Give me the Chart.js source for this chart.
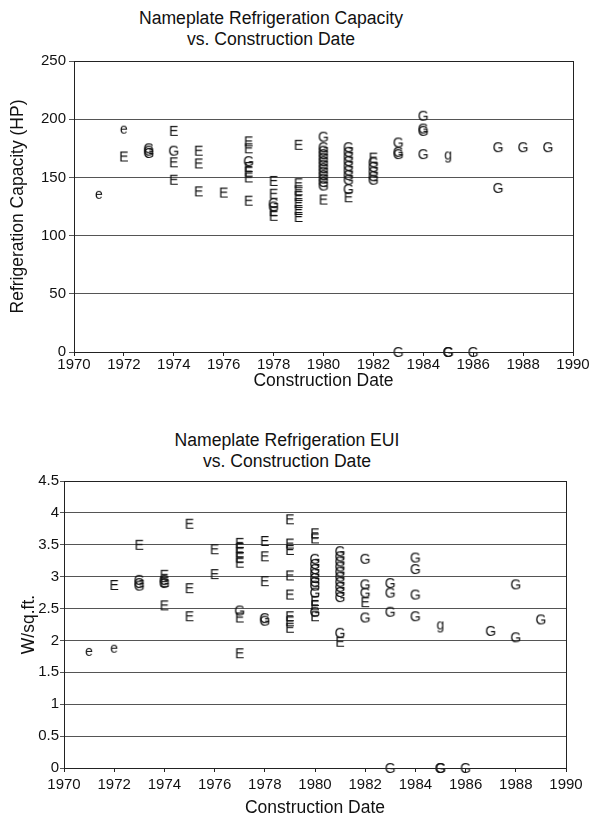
<!DOCTYPE html>
<html>
<head>
<meta charset="utf-8">
<script src="https://cdn.jsdelivr.net/npm/chart.js@4.4.1/dist/chart.umd.min.js"></script>
<style>
  html, body { margin: 0; padding: 0; background: #fff; }
  body { width: 592px; height: 821px; position: relative; overflow: hidden; font-family: "Liberation Sans", Arial, Helvetica, sans-serif; }
  .ttl { position: absolute; width: 420px; text-align: center; font-size: 17.6px; line-height: 21px; color: #111; }
  canvas { position: absolute; left: 0; }
</style>
</head>
<body>
<div class="ttl" id="t1" style="left:61px; top:8px;">Nameplate Refrigeration Capacity<br>vs. Construction Date</div>
<div class="ttl" id="t2" style="left:77px; top:430px;">Nameplate Refrigeration EUI<br>vs. Construction Date</div>
<canvas id="c1" width="592" height="410" style="top:0;"></canvas>
<canvas id="c2" width="592" height="411" style="top:410px;"></canvas>
<script>
// ---- Data: [construction year, value] per marker letter ----
// Refrigeration capacity (HP)
const capE = [[1972,168],[1974,190],[1974,163],[1974,148],[1975,173],[1975,162],[1975,138],[1976,137],
  [1977,181],[1977,175],[1977,159],[1977,155],[1977,150],[1977,130],
  [1978,147],[1978,136],[1978,121],[1978,117],
  [1979,178],[1979,145],[1979,139],[1979,134],[1979,128],[1979,122],[1979,116],
  [1980,131],[1981,133],[1982,167]];
const capG = [[1973,175],[1973,173],[1973,171],[1974,173],[1977,164],[1978,128],[1978,125],
  [1980,185],[1980,176],[1980,173],[1980,170],[1980,167],[1980,164],[1980,161],[1980,158],[1980,155],[1980,152],[1980,149],[1980,146],[1980,143],
  [1981,176],[1981,172],[1981,168],[1981,164],[1981,160],[1981,156],[1981,152],[1981,148],[1981,140],
  [1982,163],[1982,159],[1982,155],[1982,151],[1982,148],
  [1983,180],[1983,172],[1983,170],[1983,0],
  [1984,203],[1984,192],[1984,190],[1984,170],
  [1985,0],[1985,0],[1986,0],[1987,176],[1987,141],[1988,176],[1989,176]];
const capLowE = [[1971,135],[1972,191]];
const capLowG = [[1985,168]];

// Refrigeration EUI (W/sq.ft.)
const euiE = [[1972,2.87],[1973,3.5],[1974,3.03],[1974,2.92],[1974,2.55],[1975,3.83],[1975,2.82],[1975,2.38],
  [1976,3.43],[1976,3.04],
  [1977,3.53],[1977,3.45],[1977,3.38],[1977,3.3],[1977,3.22],[1977,2.36],[1977,1.8],
  [1978,3.56],[1978,3.32],[1978,2.93],
  [1979,3.9],[1979,3.52],[1979,3.42],[1979,3.02],[1979,2.72],[1979,2.38],[1979,2.3],[1979,2.2],
  [1980,3.68],[1980,3.6],[1980,2.62],[1980,2.55],[1980,2.38],[1981,1.98],[1982,2.6]];
const euiG = [[1973,2.95],[1973,2.9],[1973,2.86],[1974,2.95],[1974,2.9],[1977,2.47],[1978,2.35],[1978,2.31],
  [1980,3.28],[1980,3.2],[1980,3.12],[1980,3.05],[1980,2.98],[1980,2.92],[1980,2.86],[1980,2.75],[1980,2.45],
  [1981,3.4],[1981,3.32],[1981,3.24],[1981,3.16],[1981,3.08],[1981,3.0],[1981,2.92],[1981,2.84],[1981,2.76],[1981,2.68],[1981,2.12],
  [1982,3.28],[1982,2.88],[1982,2.75],[1982,2.36],
  [1983,2.9],[1983,2.75],[1983,2.45],[1983,0],
  [1984,3.3],[1984,3.12],[1984,2.72],[1984,2.38],
  [1985,0],[1985,0],[1986,0],[1987,2.15],[1988,2.88],[1988,2.05],[1989,2.33]];
const euiLowE = [[1971,1.82],[1972,1.87]];
const euiLowG = [[1985,2.22]];

// Axis ticks
const yearTicks = [1970,1972,1974,1976,1978,1980,1982,1984,1986,1988,1990];
const capTicks = [0,50,100,150,200,250];
const euiTicks = [0,0.5,1,1.5,2,2.5,3,3.5,4,4.5];

// ---- Helpers ----
const FONT = '"Liberation Sans", Arial, Helvetica, sans-serif';
function glyph(ch) {
  const c = document.createElement('canvas');
  c.width = 16; c.height = 16;
  const g = c.getContext('2d');
  g.fillStyle = '#111';
  g.font = '14px ' + FONT;
  g.textAlign = 'center';
  g.textBaseline = 'alphabetic';
  const yb = ch === 'E' || ch === 'G' ? 13 : (ch === 'g' ? 11 : 11.5);
  g.fillText(ch, 8, yb);
  return c;
}
const glyphs = { E: glyph('E'), G: glyph('G'), e: glyph('e'), g: glyph('g') };
const pts = arr => arr.map(p => ({ x: p[0], y: p[1] }));
function ds(label, arr, ch) {
  return { label, data: pts(arr), pointStyle: glyphs[ch], pointRadius: 8, pointHoverRadius: 8, showLine: false, clip: false };
}
const frame = {
  id: 'frame',
  afterDraw(chart) {
    const a = chart.chartArea, ctx = chart.ctx;
    ctx.save();
    ctx.strokeStyle = '#222';
    ctx.lineWidth = 1;
    ctx.strokeRect(Math.round(a.left) + 0.5, Math.round(a.top) + 0.5, Math.round(a.right - a.left), Math.round(a.bottom - a.top));
    ctx.restore();
  }
};
function makeChart(id, datasets, cfg) {
  return new Chart(document.getElementById(id), {
    type: 'scatter',
    data: { datasets },
    options: {
      responsive: false,
      animation: false,
      events: [],
      layout: { padding: cfg.padding },
      plugins: { legend: { display: false }, tooltip: { enabled: false }, title: { display: false } },
      scales: {
        x: {
          type: 'linear', min: 1970, max: 1990,
          afterBuildTicks: s => { s.ticks = yearTicks.map(v => ({ value: v })); },
          afterFit: s => { s.height = cfg.xHeight; },
          grid: { drawOnChartArea: false, drawTicks: true, tickLength: 4, color: '#222' },
          border: { color: '#222' },
          ticks: { color: '#111', font: { family: FONT, size: 15 }, padding: cfg.xTickPad, maxRotation: 0, autoSkip: false, callback: v => String(v) },
          title: { display: true, text: 'Construction Date', color: '#111', font: { family: FONT, size: 17.5 }, padding: { top: 0, bottom: cfg.xTitlePad } }
        },
        y: {
          type: 'linear', min: cfg.yMin, max: cfg.yMax,
          afterBuildTicks: s => { s.ticks = cfg.yTicks.map(v => ({ value: v })); },
          afterFit: s => { s.width = cfg.yWidth; },
          grid: { color: '#555', lineWidth: 1, drawTicks: true, tickLength: cfg.yTickLen },
          border: { color: '#222' },
          ticks: { color: '#111', font: { family: FONT, size: 15 }, padding: cfg.yTickPad, callback: v => String(v) },
          title: { display: true, text: cfg.yTitle, color: '#111', font: { family: FONT, size: 17.5 }, padding: { top: cfg.yTitlePad, bottom: 0 } }
        }
      }
    },
    plugins: [frame]
  });
}

makeChart('c1', [
  ds('E', capE, 'E'), ds('G', capG, 'G'), ds('e', capLowE, 'e'), ds('g', capLowG, 'g')
], {
  padding: { top: 61, right: 19, bottom: 0, left: 0 },
  xHeight: 58, yWidth: 74, yMin: 0, yMax: 250, yTicks: capTicks,
  yTitle: 'Refrigeration Capacity (HP)', yTitlePad: 8, xTitlePad: 18, xTickPad: 0, yTickLen: 5, yTickPad: 3
});

makeChart('c2', [
  ds('E', euiE, 'E'), ds('G', euiG, 'G'), ds('e', euiLowE, 'e'), ds('g', euiLowG, 'g')
], {
  padding: { top: 71, right: 26, bottom: 0, left: 0 },
  xHeight: 53, yWidth: 64, yMin: 0, yMax: 4.5, yTicks: euiTicks,
  yTitle: 'W/sq.ft.', yTitlePad: 19, xTitlePad: 2, xTickPad: 4, yTickLen: 4, yTickPad: 1
});
</script>
</body>
</html>
